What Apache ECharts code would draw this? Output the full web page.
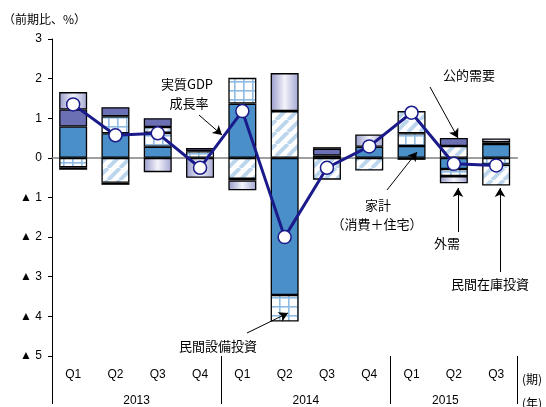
<!DOCTYPE html>
<html><head><meta charset="utf-8">
<script src="https://cdn.jsdelivr.net/npm/echarts@6/dist/echarts.min.js"></script>
<style>html,body{margin:0;padding:0;background:#fff}#c{width:546px;height:407px}</style>
</head><body><div id="c"></div><script>
// ---- data ----
const quarters = ['Q1','Q2','Q3','Q4','Q1','Q2','Q3','Q4','Q1','Q2','Q3'];
const years = ['2013','2014','2015'];
const yearPos = [2, 6, 9.3];          // label centre, in category units
const yearSeps = [0, 4, 8, 11];       // separator lines, in category units
const yTickLabels = {'3':'3','2':'2','1':'1','0':'0','-1':'▲ 1','-2':'▲ 2','-3':'▲ 3','-4':'▲ 4','-5':'▲ 5'};
const kakei   = [0.79, 0.62, 0.28, 0.00, 1.37, -3.46, 0.06, 0.28, 0.30, -0.28, 0.35];
const setsubi = [-0.24, 0.43, 0.35, 0.17, 0.65, -0.67, 0.00, 0.00, 0.32, -0.18, -0.17];
const zaiko   = [-0.06, -0.63, 0.15, 0.00, -0.53, 1.18, -0.55, -0.32, 0.56, 0.30, -0.53];
const koteki  = [0.43, 0.23, 0.22, 0.08, -0.04, 0.00, 0.17, 0.00, 0.00, 0.20, 0.04];
const gaiju   = [0.44, -0.05, -0.36, -0.50, -0.25, 0.96, 0.04, 0.31, -0.05, -0.18, 0.10];
const gdp     = [1.35, 0.57, 0.62, -0.25, 1.18, -2.00, -0.25, 0.29, 1.14, -0.15, -0.19];

// ---- patterns ----
function gridPattern(){
  const s=9, c=document.createElement('canvas'); c.width=s; c.height=s;
  const g=c.getContext('2d'); g.fillStyle='#fff'; g.fillRect(0,0,s,s);
  g.fillStyle='#8fbbe3'; g.fillRect(0,0,s,1.6); g.fillRect(0,0,1.6,s); return c;
}
function hatchPattern(){
  const s=12, c=document.createElement('canvas'); c.width=s; c.height=s;
  const g=c.getContext('2d'); g.fillStyle='#fff'; g.fillRect(0,0,s,s);
  g.strokeStyle='#bcd6ee'; g.lineWidth=4;
  for (const k of [-s,0,s]) { g.beginPath(); g.moveTo(k,s); g.lineTo(k+s,0); g.stroke(); }
  return c;
}
const FONT = "'Liberation Sans','Noto Sans CJK JP',sans-serif";
const JP = "'Noto Sans CJK JP',sans-serif";
const border = {borderColor:'#000', borderWidth:1.3};
const NAVY = '#1a1a8a';

function barSeries(name, data, color){
  return {name, type:'bar', stack:'s', barWidth:28, data:data.map(v=>v===0?null:v), xAxisIndex:0, yAxisIndex:0,
    itemStyle:Object.assign({color}, border), emphasis:{disabled:true}};
}
const gradient = {type:'linear', x:0, y:0, x2:1, y2:0, colorStops:[
  {offset:0, color:'#979ac9'}, {offset:0.5, color:'#f3f3fb'}, {offset:1, color:'#a3a6d2'}]};

const arrows = [
  [[199,115],[222,135]],
  [[430,87],[458,138]],
  [[387,190],[417,152]],
  [[458,232],[458,188]],
  [[500,272],[500,188]],
  [[247,333],[288,313]]
];

const chart = echarts.init(document.getElementById('c'), null, {renderer:'canvas'});
chart.setOption({
  animation:false,
  grid:{left:52, top:39, width:465.3, height:320, containLabel:false},
  xAxis:[
    {type:'category', data:quarters, position:'bottom', gridIndex:0,
     axisLine:{onZero:true, lineStyle:{color:'#808080', width:1.5}}, axisTick:{show:false}, axisLabel:{show:false}},
    {type:'category', data:quarters, position:'bottom', gridIndex:0,
     axisLine:{show:false}, axisTick:{show:false},
     axisLabel:{margin:13, color:'#000', fontSize:12, fontFamily:FONT}},
    {type:'value', min:0, max:11, position:'bottom', gridIndex:0, splitLine:{show:false},
     axisLine:{show:false},
     axisTick:{show:true, customValues:yearSeps, length:48, lineStyle:{color:'#000', width:1}},
     axisLabel:{customValues:yearPos, margin:39, color:'#000', fontSize:12, fontFamily:FONT,
       formatter:(v)=>years[yearPos.indexOf(v)]}}
  ],
  yAxis:{type:'value', min:-5, max:3, interval:1,
    axisLine:{show:true, lineStyle:{color:'#000', width:1}},
    axisTick:{show:true, length:4, lineStyle:{color:'#000'}},
    splitLine:{show:false},
    axisLabel:{margin:10, color:'#000', fontSize:12, fontFamily:FONT, formatter:(v)=>yTickLabels[String(v)]}},
  series:[
    barSeries('家計', kakei, '#4a8fc8'),
    barSeries('民間設備投資', setsubi, {image:gridPattern(), repeat:'repeat'}),
    barSeries('民間在庫投資', zaiko, {image:hatchPattern(), repeat:'repeat'}),
    barSeries('公的需要', koteki, '#6b70b4'),
    barSeries('外需', gaiju, gradient),
    {name:'実質GDP成長率', type:'line', data:gdp, z:5, xAxisIndex:0,
     lineStyle:{color:NAVY, width:3}, symbol:'circle', symbolSize:13,
     itemStyle:{color:'#fff', borderColor:NAVY, borderWidth:1.5}, emphasis:{disabled:true},
     markLine:{silent:true, symbol:['none','arrow'], symbolSize:[8,9], label:{show:false},
       lineStyle:{color:'#000', width:1, type:'solid'}, emphasis:{disabled:true},
       data:arrows.map(a=>[{x:a[0][0], y:a[0][1]}, {x:a[1][0], y:a[1][1]}])}}
  ],
  graphic:[
    {type:'text', left:3, top:13, style:{text:'（前期比、%）', font:'12px '+JP, fill:'#000'}},
    {type:'text', x:187, y:84, style:{text:'実質GDP', font:'13px '+JP, fill:'#000', align:'center', verticalAlign:'middle'}},
    {type:'text', x:189, y:103, style:{text:'成長率', font:'13px '+JP, fill:'#000', align:'center', verticalAlign:'middle'}},
    {type:'text', x:469, y:75, style:{text:'公的需要', font:'13px '+JP, fill:'#000', align:'center', verticalAlign:'middle'}},
    {type:'text', x:378, y:205, style:{text:'家計', font:'13px '+JP, fill:'#000', align:'center', verticalAlign:'middle'}},
    {type:'text', x:377, y:224, style:{text:'（消費＋住宅）', font:'13px '+JP, fill:'#000', align:'center', verticalAlign:'middle'}},
    {type:'text', x:447, y:243, style:{text:'外需', font:'13px '+JP, fill:'#000', align:'center', verticalAlign:'middle'}},
    {type:'text', x:490, y:284, style:{text:'民間在庫投資', font:'13px '+JP, fill:'#000', align:'center', verticalAlign:'middle'}},
    {type:'text', x:218, y:346, style:{text:'民間設備投資', font:'13px '+JP, fill:'#000', align:'center', verticalAlign:'middle'}},
    {type:'text', x:522, y:379, style:{text:'(期)', font:'12px '+JP, fill:'#000', verticalAlign:'middle'}},
    {type:'text', x:522, y:403, style:{text:'(年)', font:'12px '+JP, fill:'#000', verticalAlign:'middle'}}
  ]
});
</script></body></html>
